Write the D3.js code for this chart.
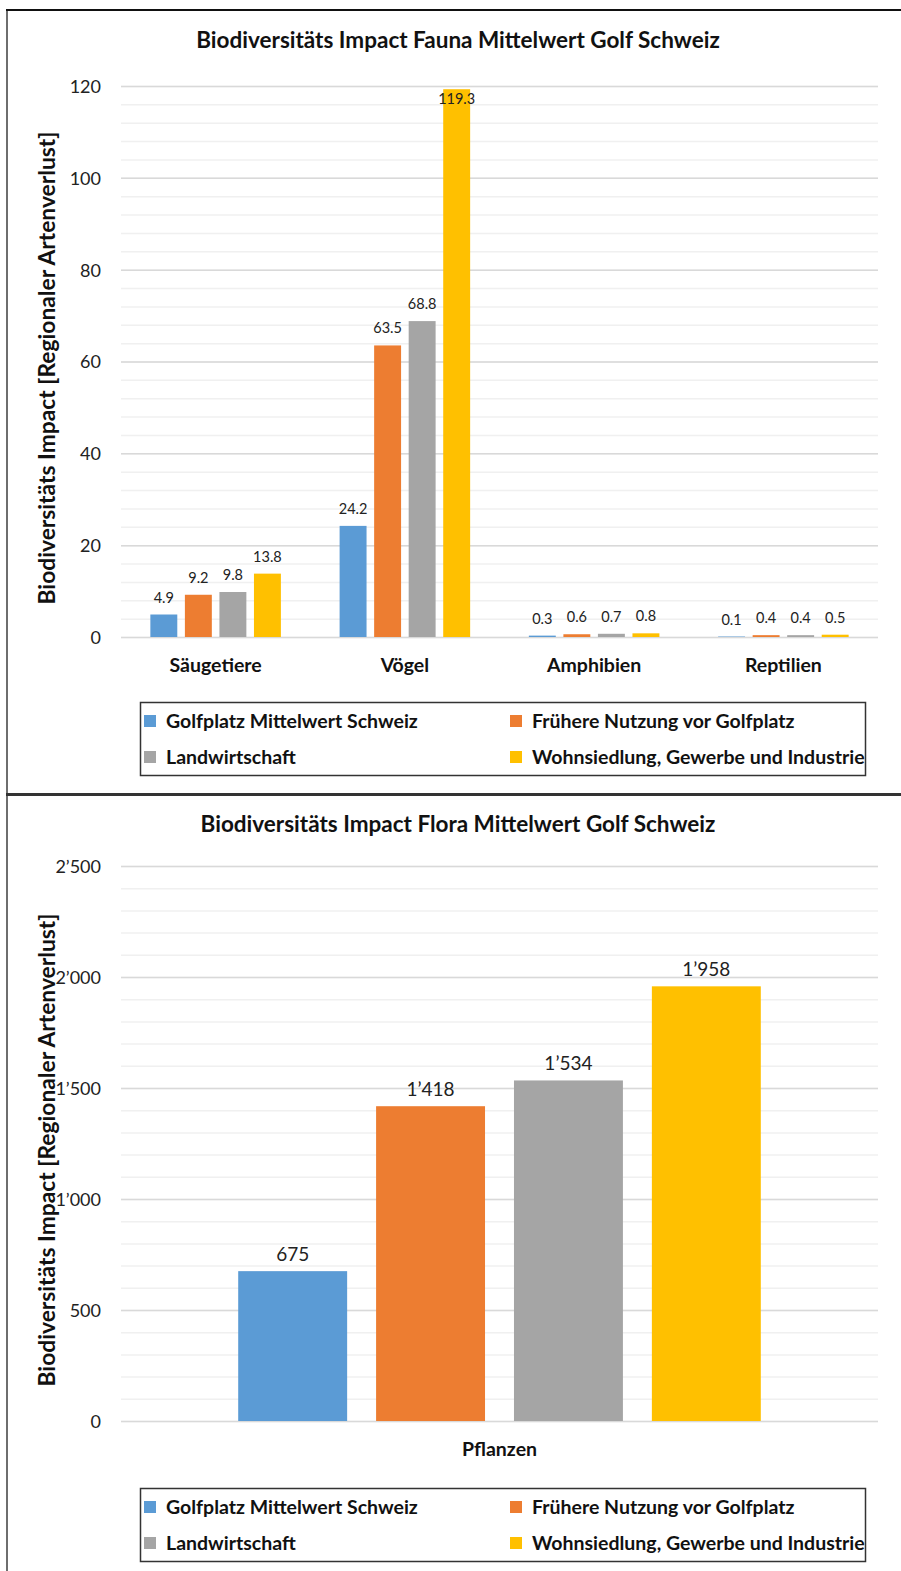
<!DOCTYPE html>
<html>
<head>
<meta charset="utf-8">
<script src="https://cdn.jsdelivr.net/npm/d3@7"></script>
<style>
  body { margin: 0; background: #fff; }
  svg { display: block; font-family: Lato, "Open Sans", sans-serif; }
</style>
</head>
<body>
<svg width="901" height="1571"></svg>
<script>
// series names and colours (shared by both charts)
const seriesNames = [
  "Golfplatz Mittelwert Schweiz",
  "Frühere Nutzung vor Golfplatz",
  "Landwirtschaft",
  "Wohnsiedlung, Gewerbe und Industrie"
];
const seriesColors = ["#5B9BD5", "#ED7D31", "#A5A5A5", "#FFC000"];

// fauna chart
const faunaCategories = ["Säugetiere", "Vögel", "Amphibien", "Reptilien"];
const faunaGolf = [4.9, 24.2, 0.3, 0.1];
const faunaFrueher = [9.2, 63.5, 0.6, 0.4];
const faunaLandwirtschaft = [9.8, 68.8, 0.7, 0.4];
const faunaSiedlung = [13.8, 119.3, 0.8, 0.5];
const faunaTicks = [0, 20, 40, 60, 80, 100, 120];

// flora chart
const floraCategories = ["Pflanzen"];
const floraGolf = [675];
const floraFrueher = [1418];
const floraLandwirtschaft = [1534];
const floraSiedlung = [1958];
const floraTicks = [0, 500, 1000, 1500, 2000, 2500];

const yTitle = "Biodiversitäts Impact [Regionaler Artenverlust]";

const swiss = d3.formatLocale({ decimal: ".", thousands: "’", grouping: [3], currency: ["", ""] });

const svg = d3.select("svg");

// outer frames
svg.append("line").attr("x1", 7).attr("x2", 7).attr("y1", 9).attr("y2", 1571)
  .attr("stroke", "#6e6e6e").attr("stroke-width", 2);
svg.append("line").attr("x1", 6).attr("x2", 901).attr("y1", 10).attr("y2", 10)
  .attr("stroke", "#111").attr("stroke-width", 2);
svg.append("line").attr("x1", 6).attr("x2", 901).attr("y1", 794.5).attr("y2", 794.5)
  .attr("stroke", "#333").attr("stroke-width", 3);

function drawChart(opt) {
  const g = svg.append("g");
  const series = opt.series;

  const x = d3.scaleBand()
    .domain(opt.categories)
    .range([121, 878]);

  const y = d3.scaleLinear()
    .domain([0, d3.max(opt.ticks)])
    .range([opt.bottom, opt.top]);

  const inner = d3.scaleBand()
    .domain(d3.range(series.length))
    .range([0, x.bandwidth()])
    .paddingInner(opt.innerPad)
    .paddingOuter(opt.outerPad);

  // minor gridlines
  const minor = d3.range(0, d3.max(opt.ticks) + 1e-9, opt.minorStep);
  g.append("g").selectAll("line")
    .data(minor)
    .enter()
    .append("line")
    .attr("x1", 121).attr("x2", 878)
    .attr("y1", d => y(d) + 0.5).attr("y2", d => y(d) + 0.5)
    .attr("stroke", "#f0f0f0").attr("stroke-width", 1.5);

  // major gridlines
  g.append("g").selectAll("line")
    .data(opt.ticks)
    .enter()
    .append("line")
    .attr("x1", 121).attr("x2", 878)
    .attr("y1", d => y(d) + 0.5).attr("y2", d => y(d) + 0.5)
    .attr("stroke", "#d9d9d9").attr("stroke-width", 1.5);

  // y tick labels
  const yAxis = d3.axisLeft(y)
    .tickValues(opt.ticks)
    .tickSize(0)
    .tickPadding(0)
    .tickFormat(opt.tickFormat);
  const ya = g.append("g").attr("transform", "translate(101,0)").call(yAxis);
  ya.select(".domain").remove();
  ya.selectAll("text")
    .attr("font-family", "Lato, sans-serif")
    .attr("font-size", 18)
    .attr("fill", "#222")
    .attr("dy", "0.36em");

  // bars
  const rows = [];
  opt.categories.forEach((c, i) => {
    series.forEach((s, j) => rows.push({ cat: c, j: j, v: s[i] }));
  });

  g.append("g").selectAll("rect")
    .data(rows)
    .enter()
    .append("rect")
    .attr("x", d => x(d.cat) + inner(d.j))
    .attr("width", inner.bandwidth())
    .attr("y", d => y(d.v))
    .attr("height", d => y(0) - y(d.v))
    .attr("fill", d => seriesColors[d.j]);

  // data labels (placed inside the bar top when no room above)
  g.append("g").selectAll("text")
    .data(rows)
    .enter()
    .append("text")
    .attr("x", d => x(d.cat) + inner(d.j) + inner.bandwidth() / 2)
    .attr("y", d => {
      const ly = y(d.v) - opt.labelGap;
      return ly < opt.top + 8 ? y(d.v) + opt.labelSize : ly;
    })
    .attr("text-anchor", "middle")
    .attr("font-size", opt.labelSize)
    .attr("fill", "#222")
    .text(d => opt.labelFormat(d.v));

  // category labels
  g.append("g").selectAll("text")
    .data(opt.categories)
    .enter()
    .append("text")
    .attr("x", d => x(d) + x.bandwidth() / 2)
    .attr("y", opt.bottom + 35)
    .attr("text-anchor", "middle")
    .attr("font-size", 19.5)
    .attr("font-weight", "bold")
    .attr("fill", "#111")
    .text(d => d);

  // title
  g.append("text")
    .attr("x", 458).attr("y", opt.titleY)
    .attr("text-anchor", "middle")
    .attr("font-size", 22.5)
    .attr("font-weight", "bold")
    .attr("fill", "#111")
    .text(opt.title);

  // y axis title
  g.append("text")
    .attr("transform", `translate(55,${opt.yTitleY}) rotate(-90)`)
    .attr("text-anchor", "middle")
    .attr("font-size", 22.8)
    .attr("font-weight", "bold")
    .attr("fill", "#111")
    .text(yTitle);

  // legend
  const lg = g.append("g").attr("transform", `translate(140,${opt.legendY})`);
  lg.append("rect")
    .attr("x", 0.5).attr("y", 0.5)
    .attr("width", 725).attr("height", 73)
    .attr("fill", "#fff").attr("stroke", "#333").attr("stroke-width", 1.5);
  const items = lg.selectAll("g.item")
    .data(seriesNames)
    .enter()
    .append("g")
    .attr("transform", (d, i) => `translate(${i % 2 ? 370 : 4},${i < 2 ? 19 : 55})`);
  items.append("rect")
    .attr("x", 0).attr("y", -6)
    .attr("width", 12).attr("height", 12)
    .attr("fill", (d, i) => seriesColors[i]);
  items.append("text")
    .attr("x", 22).attr("y", 0)
    .attr("dy", "0.36em")
    .attr("font-size", 19.5)
    .attr("font-weight", "bold")
    .attr("fill", "#111")
    .text(d => d);
}

drawChart({
  title: "Biodiversitäts Impact Fauna Mittelwert Golf Schweiz",
  titleY: 48,
  categories: faunaCategories,
  series: [faunaGolf, faunaFrueher, faunaLandwirtschaft, faunaSiedlung],
  ticks: faunaTicks,
  minorStep: 4,
  top: 86,
  bottom: 637,
  innerPad: 0.22,
  outerPad: 0.85,
  tickFormat: d3.format("d"),
  labelFormat: d3.format(".1f"),
  labelSize: 14.5,
  labelGap: 12,
  yTitleY: 368,
  legendY: 702
});

drawChart({
  title: "Biodiversitäts Impact Flora Mittelwert Golf Schweiz",
  titleY: 832,
  categories: floraCategories,
  series: [floraGolf, floraFrueher, floraLandwirtschaft, floraSiedlung],
  ticks: floraTicks,
  minorStep: 100,
  top: 866,
  bottom: 1421,
  innerPad: 0.21,
  outerPad: 0.85,
  tickFormat: swiss.format(","),
  labelFormat: swiss.format(","),
  labelSize: 19,
  labelGap: 10,
  yTitleY: 1150,
  legendY: 1488
});
</script>
</body>
</html>
